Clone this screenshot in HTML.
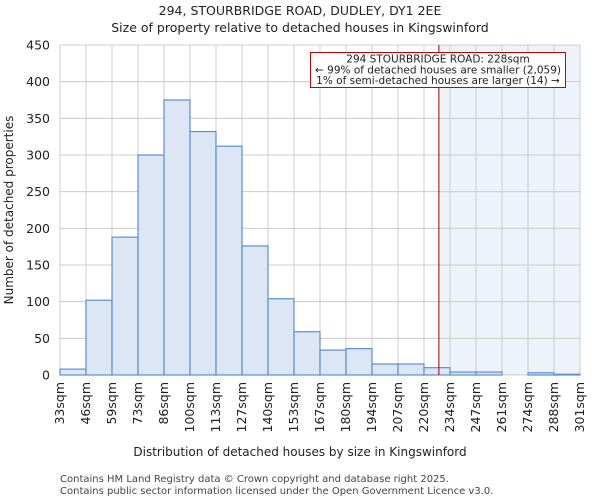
<!DOCTYPE html>
<html><head><meta charset="utf-8"><style>
body{margin:0;background:#fff;font-family:"DejaVu Sans","Liberation Sans",sans-serif}
svg text{font-family:"DejaVu Sans","Liberation Sans",sans-serif;fill:#222}
</style></head><body>
<svg id="c" width="600" height="500" xmlns="http://www.w3.org/2000/svg">
<text x="300" y="15" text-anchor="middle" font-size="12.5">294, STOURBRIDGE ROAD, DUDLEY, DY1 2EE</text>
<text x="300" y="32" text-anchor="middle" font-size="12.5">Size of property relative to detached houses in Kingswinford</text>
<g id="plot"></g>
<text x="300" y="456" text-anchor="middle" font-size="12">Distribution of detached houses by size in Kingswinford</text>
<text transform="translate(13,210) rotate(-90)" text-anchor="middle" font-size="12">Number of detached properties</text>
<text x="60" y="482" font-size="10" style="fill:#444">Contains HM Land Registry data © Crown copyright and database right 2025.</text>
<text x="60" y="494" font-size="10" style="fill:#444">Contains public sector information licensed under the Open Government Licence v3.0.</text>
</svg>
<script>
const binLabels=["33sqm","46sqm","59sqm","73sqm","86sqm","100sqm","113sqm","127sqm","140sqm","153sqm","167sqm","180sqm","194sqm","207sqm","220sqm","234sqm","247sqm","261sqm","274sqm","288sqm","301sqm"];
const counts=[8,102,188,300,375,332,312,176,104,59,34,36,15,15,10,4,4,0,3,1];
const yTicks=[0,50,100,150,200,250,300,350,400,450];
const markerValue=228;
const binEdges=[33,46,59,73,86,100,113,127,140,153,167,180,194,207,220,234,247,261,274,288,301];
const L=60,R=580,T=45,B=375,yMax=450;
const n=counts.length,bw=(R-L)/n;
const y=v=>B-v/yMax*(B-T);
const xi=i=>L+i*bw;
function xv(v){for(let i=0;i<binEdges.length-1;i++){if(v<=binEdges[i+1])return xi(i)+(v-binEdges[i])/(binEdges[i+1]-binEdges[i])*bw;}return R;}
const NS="http://www.w3.org/2000/svg",g=document.getElementById("plot");
function mk(t,a){const e=document.createElementNS(NS,t);for(const k in a)e.setAttribute(k,a[k]);g.appendChild(e);return e;}
const mx=xv(markerValue);
let e=mk("rect",{x:mx,y:T,width:R-mx,height:B-T,fill:"#eef2fb"});


for(let i=0;i<=n;i++){e=mk("line",{x1:xi(i),x2:xi(i),y1:T,y2:B,stroke:"#cccccc","stroke-width":1});

}
yTicks.forEach(t=>{e=mk("line",{x1:L,x2:R,y1:y(t),y2:y(t),stroke:"#cccccc","stroke-width":1});


e=mk("text",{x:L-10,y:y(t)+4.5,"text-anchor":"end","font-size":"12.5"});e.textContent=t;

});
counts.forEach((c,i)=>{e=mk("rect",{x:xi(i),y:y(c),width:bw,height:B-y(c),fill:"#dce6f4",stroke:"#5b8ed6","stroke-width":1.2});

});
binLabels.forEach((l,i)=>{e=mk("text",{transform:`translate(${xi(i)+4},382) rotate(-90)`,"text-anchor":"end","font-size":"12.5"});e.textContent=l;

});
e=mk("line",{x1:mx,x2:mx,y1:T,y2:B,stroke:"#990000","stroke-width":1});


e=mk("rect",{x:310.5,y:52.5,width:255,height:35,fill:"#fff",stroke:"#cc0000","stroke-width":1});


["294 STOURBRIDGE ROAD: 228sqm","← 99% of detached houses are smaller (2,059)","1% of semi-detached houses are larger (14) →"].forEach((s,i)=>{
e=mk("text",{x:438,y:62.5+i*10.8,"text-anchor":"middle","font-size":"10.5"});e.textContent=s;

});
</script>
</body></html>
